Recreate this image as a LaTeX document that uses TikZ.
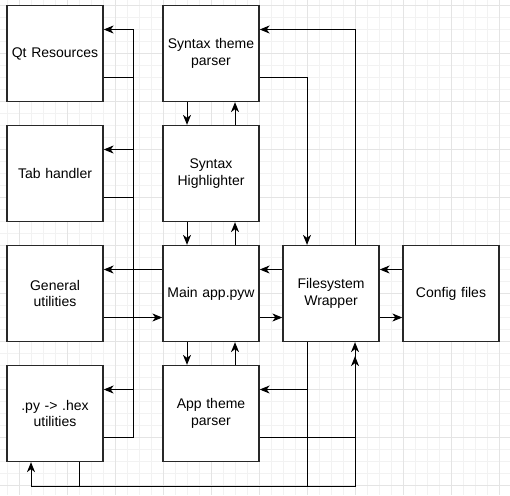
\documentclass[tikz,border=0pt]{standalone}
\usepackage{fontspec}
\setmainfont{Liberation Sans}
\usetikzlibrary{arrows.meta}
\definecolor{gridminor}{RGB}{242,242,242}
\definecolor{gridmajor}{RGB}{228,228,228}
\definecolor{boxline}{RGB}{40,40,40}
\tikzset{
  box/.style={draw=boxline, line width=1.3pt, fill=white, minimum width=96pt, minimum height=96pt, inner sep=2pt, align=center, text width=92pt, font=\fontsize{14}{16.8}\selectfont},
  conn/.style={draw=black, line width=1pt},
  arr/.style={conn, -{Stealth[length=10pt,width=8pt,inset=3pt]}},
  gminor/.style={draw=gridminor, line width=0.8pt},
  gmajor/.style={draw=gridmajor, line width=0.8pt}
}
\begin{document}
\begin{tikzpicture}[x=1pt,y=-1pt]
\useasboundingbox (0,0) rectangle (510,495);
\fill[white] (0,0) rectangle (510,495);
\foreach \i in {0,...,41} \draw[gminor] ({7+12*\i},0) -- ({7+12*\i},495);
\foreach \i in {0,...,40} \draw[gminor] (0,{5+12*\i}) -- (510,{5+12*\i});
\foreach \i in {0,...,10} \draw[gmajor] ({19+48*\i},0) -- ({19+48*\i},495);
\foreach \i in {0,...,10} \draw[gmajor] (0,{5+48*\i}) -- (510,{5+48*\i});

\node[box] (qt)  at (55,53.5)  {Qt Resources};
\node[box] (tab) at (55,173.5) {Tab handler};
\node[box] (gen) at (55,293.5) {General\\utilities};
\node[box] (py)  at (55,413.5) {.py -> .hex\\utilities};
\node[box] (stp) at (211,53.5)  {Syntax theme\\parser};
\node[box] (sh)  at (211,173.5) {Syntax\\Highlighter};
\node[box] (main) at (211,293.5) {Main app.pyw};
\node[box] (atp) at (211,413.5) {App theme\\parser};
\node[box] (fs)  at (331,293.5) {Filesystem\\Wrapper};
\node[box] (cfg) at (451,293.5) {Config files};

% left bus
\draw[arr] ([yshift=-24pt]qt.east) -- ++(30,0) |- ([yshift=24pt]tab.east);
\draw[arr] ([yshift=-24pt]tab.east) -- ++(30,0) |- ([yshift=24pt]qt.east);
\draw[arr] ([yshift=-24pt]tab.east) -- ++(30,0) |- ([yshift=24pt]py.east);
\draw[conn] ([yshift=-24pt]py.east) -- ++(30,0) |- ([yshift=-24pt]tab.east);

% main <-> general
\draw[arr] ([yshift=24pt]main.west) -- ([yshift=24pt]gen.east);
\draw[arr] ([yshift=-24pt]gen.east) -- ([yshift=-24pt]main.west);

% vertical pairs
\draw[arr] ([xshift=-24pt]stp.south) -- ([xshift=-24pt]sh.north);
\draw[arr] ([xshift=24pt]sh.north) -- ([xshift=24pt]stp.south);
\draw[arr] ([xshift=-24pt]sh.south) -- ([xshift=-24pt]main.north);
\draw[arr] ([xshift=24pt]main.north) -- ([xshift=24pt]sh.south);
\draw[arr] ([xshift=-24pt]main.south) -- ([xshift=-24pt]atp.north);
\draw[arr] ([xshift=24pt]atp.north) -- ([xshift=24pt]main.south);

% syntax theme parser <-> filesystem
\draw[arr] ([yshift=-24pt]stp.east) -| ([xshift=-24pt]fs.north);
\draw[arr] ([xshift=24pt]fs.north) |- ([yshift=24pt]stp.east);

% main <-> filesystem, filesystem <-> config
\draw[arr] ([yshift=24pt]fs.west) -- ([yshift=24pt]main.east);
\draw[arr] ([yshift=-24pt]main.east) -- ([yshift=-24pt]fs.west);
\draw[arr] ([yshift=24pt]cfg.west) -- ([yshift=24pt]fs.east);
\draw[arr] ([yshift=-24pt]fs.east) -- ([yshift=-24pt]cfg.west);

% bottom connections
\draw[arr] ([xshift=-24pt]fs.south) |- ([yshift=24pt]atp.east);
\draw[arr] ([xshift=-24pt]fs.south) -- ++(0,144) -| ([xshift=-24pt]py.south);
\draw[arr] ([xshift=24pt]py.south) -- ++(0,24) -| ([xshift=24pt]fs.south);
\draw[arr] ([yshift=-24pt]atp.east) -| ([xshift=24pt,yshift=-14pt]fs.south);
\end{tikzpicture}
\end{document}
